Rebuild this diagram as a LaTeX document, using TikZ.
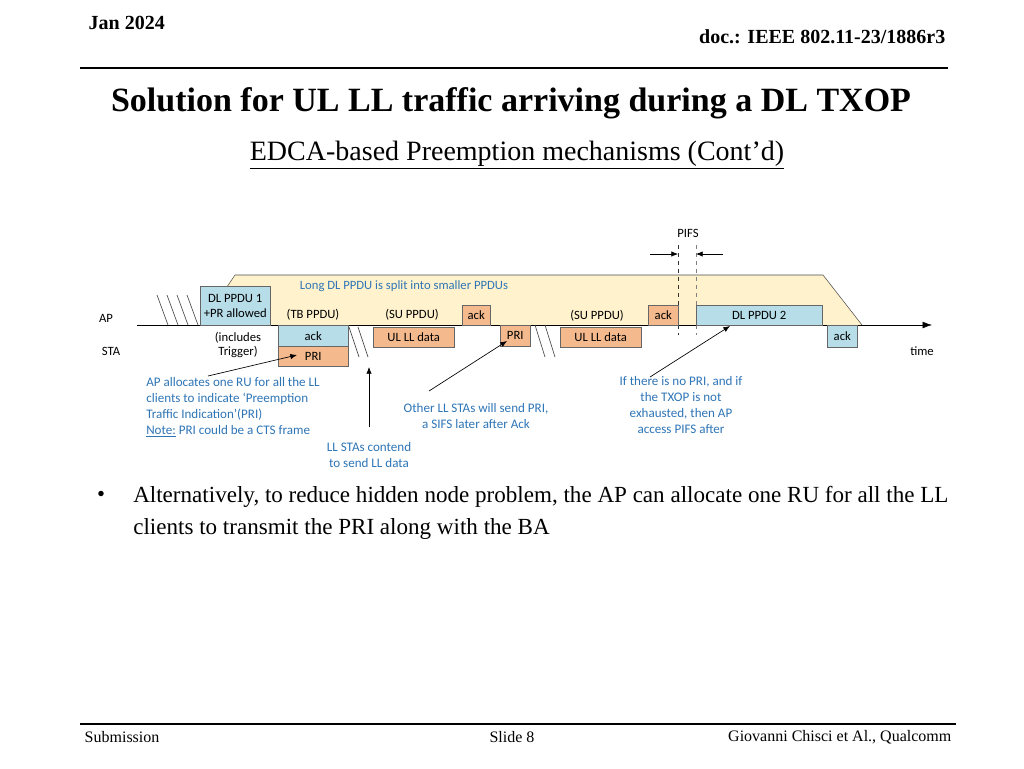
\documentclass[tikz,border=0pt]{standalone}
\usepackage{fontspec}
\setmainfont{Liberation Serif}
\newfontfamily\calfont{Carlito}
\usetikzlibrary{arrows.meta,positioning}
\definecolor{pdublue}{HTML}{B7DDE8}
\definecolor{pduorange}{HTML}{F4B98C}
\definecolor{txopyellow}{HTML}{FFF2CC}
\definecolor{notecol}{HTML}{2E75B6}
\tikzset{
  blbox/.style  = {draw=black!60, fill=pdublue, inner sep=0pt, font=\calfont\fontsize{9.5}{11}\selectfont},
  orbox/.style  = {draw=black!60, fill=pduorange, inner sep=0pt, font=\calfont\fontsize{9.5}{11}\selectfont},
  lbl/.style    = {font=\calfont\fontsize{9.5}{12}\selectfont, inner sep=0pt},
  note/.style   = {font=\calfont\fontsize{9.8}{12}\selectfont, text=notecol, inner sep=0pt, align=center},
  hatch/.style  = {black!70, line width=0.5pt},
  pointer/.style= {-{Latex[length=5pt,width=4pt]}, line width=0.5pt}
}
% box from (x1,y1) to (x2,y2) in pixels
\newcommand{\pdu}[7]{\node[#6, anchor=north west, minimum width={(#4-#2)*0.75pt},
  minimum height={(#5-#3)*0.75pt}] (#1) at (#2,#3) {#7};}
\begin{document}
\begin{tikzpicture}[x=0.75pt, y=-0.75pt]
  \useasboundingbox (0,0) rectangle (1024,768);
  % Slide header
  \node[font=\bfseries\fontsize{15}{18}\selectfont, anchor=west] (date) at (84,23) {Jan 2024};
  \node[font=\bfseries\fontsize{15}{18}\selectfont, anchor=east] (doc) at (950,37) {doc.: IEEE 802.11-23/1886r3};
  \draw[line width=0.8pt] (80,68) -- (948,68);
  \node[font=\bfseries\fontsize{25.5}{29}\selectfont] (title) at (511,103) {Solution for UL LL traffic arriving during a DL TXOP};
  \node[font=\fontsize{21}{25}\selectfont] (subtitle) at (517,155) {\underline{EDCA-based Preemption mechanisms (Cont’d)}};

  % TXOP background
  \fill[txopyellow] (215,300) -- (235,275) -- (823,275) -- (862,325) -- (215,325) -- cycle;
  \draw[black!70] (227,287) -- (235,275) -- (823,275) -- (862,325);
  \node[lbl, text=notecol] (split) at (404,286) {Long DL PPDU is split into smaller PPDUs};

  % PIFS marks
  \draw[dashed, black!80] (678,245) -- (678,335);
  \draw[dashed, black!50] (696,245) -- (696,335);
  \node[lbl] (pifs) at (688,233) {PIFS};
  \coordinate (pl) at (650,254);
  \coordinate (pr) at (723,254);
  \draw[pointer] (pl) -- (678,254);
  \draw[pointer] (pr) -- (696,254);

  % Time line
  \coordinate (t0) at (137,325);
  \coordinate (t1) at (932,325);
  \draw[-{Latex[length=7pt,width=5pt]}] (t0) -- (t1);
  \node[lbl] (ap)  at (106,318) {AP};
  \node[lbl] (sta) at (111,351) {STA};
  \node[lbl] (time) at (922,351) {time};

  % Frames
  \pdu{dl1}{200}{286}{270}{325}{blbox, align=center}{DL PPDU 1\\+PR allowed}
  \pdu{ack1}{278}{325}{348}{346}{blbox}{ack}
  \pdu{pri1}{278}{346}{348}{366}{orbox}{PRI}
  \pdu{ul1}{373}{327}{454}{347}{orbox}{UL LL data}
  \pdu{ack2}{462}{305}{490}{325}{orbox}{ack}
  \pdu{pri2}{500}{325}{530}{346}{orbox}{PRI}
  \pdu{ul2}{560}{327}{641}{347}{orbox}{UL LL data}
  \pdu{ack3}{648}{305}{678}{325}{orbox}{ack}
  \pdu{dl2}{696}{305}{822}{325}{blbox}{DL PPDU 2}
  \pdu{ack4}{827}{325}{857}{347}{blbox}{ack}
  \node[lbl] (tb)  at (313,315) {(TB PPDU)};
  \node[lbl] (su1) at (412,315) {(SU PPDU)};
  \node[lbl] (su2) at (597,316) {(SU PPDU)};
  \node[lbl, align=center, font=\calfont\fontsize{9.5}{11}\selectfont] (trig) at (238,345) {(includes\\Trigger)};

  % Contention hatches
  \foreach \x in {157,167,177,187}
    \draw[hatch] (\x,295) -- (\x+11,325);
  \foreach \x in {349,358}
    \draw[hatch] (\x,327) -- (\x+10,357);
  \foreach \x in {535,545}
    \draw[hatch] (\x,325) -- (\x+10,357);

  % Notes
  \node[note, align=left, anchor=north west] (allocnote) at (146,377)
    {AP allocates one RU for all the LL\\clients to indicate ‘Preemption\\Traffic Indication’(PRI)\\\underline{Note:} PRI could be a CTS frame};
  \node[note] (contend) at (369,455) {LL STAs contend\\to send LL data};
  \node[note] (othernote) at (476,416) {Other LL STAs will send PRI,\\a SIFS later after Ack};
  \node[note] (nopri) at (681,405) {If there is no PRI, and if\\the TXOP is not\\exhausted, then AP\\access PIFS after};
  \coordinate (prihit) at (507,341);
  \draw[pointer] (208,376) -- (297,355);
  \draw[pointer] (369,427) -- (369,367);
  \draw[pointer] (429,391) -- (prihit);
  \draw[pointer] (650,377) -- (730,326);

  % Bullet
  \node[font=\fontsize{17}{21}\selectfont] (bul) at (101,496) {\textbullet};
  \node[font=\fontsize{17.3}{24}\selectfont, anchor=north west, inner sep=0pt, text width=628pt, align=flush left] (bultext) at (133,486)
    {Alternatively, to reduce hidden node problem, the AP can allocate one RU for all the LL clients to transmit the PRI along with the BA};

  % Footer
  \draw[line width=0.8pt] (80,724) -- (956,724);
  \node[font=\fontsize{12}{14}\selectfont, anchor=west] (sub) at (80,737) {Submission};
  \node[font=\fontsize{12}{14}\selectfont] (slide) at (512,737) {Slide 8};
  \node[font=\fontsize{12}{14}\selectfont, anchor=east] (auth) at (956,737) {Giovanni Chisci et Al., Qualcomm};
\end{tikzpicture}
\end{document}
